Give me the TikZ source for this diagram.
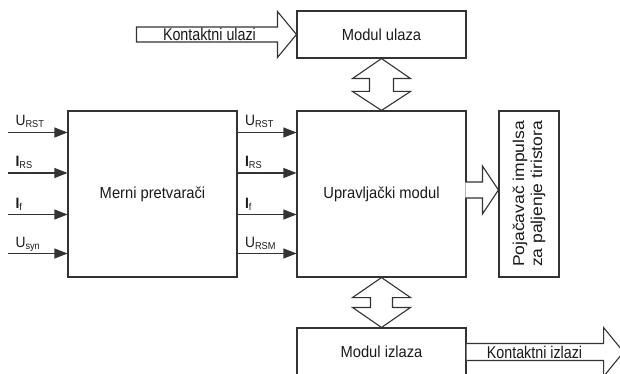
\documentclass[tikz,border=0pt]{standalone}
\usepackage{fontspec}
\usepackage{graphicx}
\setmainfont{Liberation Sans}
\usetikzlibrary{arrows.meta,calc}
\definecolor{ln}{HTML}{333333}
\definecolor{tx}{HTML}{1A1A1A}
\newcommand\sig[2]{\scalebox{0.92}[1]{#1\raisebox{-2pt}{\fontsize{10}{10}\selectfont #2}}}
\newcommand\cz[1]{\scalebox{0.92}[1]{#1}}
\newcommand\czz[1]{\scalebox{0.84}[1]{#1}}
\newcommand\vz[1]{\scalebox{1}[0.9]{#1}}
\begin{document}
\begin{tikzpicture}[x=1pt,y=-1pt,line width=1.1pt,
  block/.style={draw=ln,rectangle,inner sep=0pt,text=tx,font=\fontsize{16}{18}\selectfont},
  sigline/.style={draw=ln,-{Triangle[length=13pt,width=10pt]}},
  lbl/.style={anchor=base west,inner sep=0pt,text=tx,font=\fontsize{15}{17}\selectfont},
  hollow/.style={draw=ln,fill=white,line join=miter},
  atext/.style={anchor=base,inner sep=0pt,text=tx,font=\fontsize{17}{19}\selectfont}]
\useasboundingbox (0,0) rectangle (620,374);
% blocks
\node[block,minimum width=169pt,minimum height=166pt] (merni) at (152.5,194) {\cz{Merni pretvarači}};
\node[block,minimum width=169pt,minimum height=166pt] (uprav) at (381.5,194) {\cz{Upravljački modul}};
\node[block,minimum width=60pt,minimum height=166pt] (poj) at (529,194) {};
\node[rotate=90,align=center,inner sep=0pt,text=tx,font=\fontsize{17.5}{18}\selectfont] (pojtxt) at (poj.center) {\vz{Pojačavač impulsa}\\\vz{za paljenje tiristora}};
\node[block,minimum width=169pt,minimum height=47pt] (ulaz) at (381.5,34.5) {\cz{Modul ulaza}};
\node[block,minimum width=169pt,minimum height=48pt] (izlaz) at (381.5,352) {\cz{Modul izlaza}};
% input signal lines
\coordinate (r1) at (8,132.5);
\coordinate (r2) at (8,173);
\coordinate (r3) at (8,214.5);
\coordinate (r4) at (8,253.5);
\foreach \r in {r1,r2,r3,r4}{
  \draw[sigline] (\r) -- (\r -| merni.west);
  \coordinate (m-\r) at (\r -| merni.east);
  \draw[sigline] (m-\r) -- (\r -| uprav.west);
}
\node[lbl] (l1) at ($(r1)+(7,-6.5)$) {\sig{U}{RST}};
\node[lbl] (l2) at ($(r2)+(7,-6.5)$) {\sig{\textbf{I}}{RS}};
\node[lbl] (l3) at ($(r3)+(7,-6.5)$) {\sig{\textbf{I}}{f}};
\node[lbl] (l4) at ($(r4)+(7,-6.5)$) {\sig{U}{syn}};
\node[lbl] (k1) at ($(m-r1)+(7,-6.5)$) {\sig{U}{RST}};
\node[lbl] (k2) at ($(m-r2)+(7,-6.5)$) {\sig{\textbf{I}}{RS}};
\node[lbl] (k3) at ($(m-r3)+(7,-6.5)$) {\sig{\textbf{I}}{f}};
\node[lbl] (k4) at ($(m-r4)+(7,-6.5)$) {\sig{U}{RSM}};
% Kontaktni ulazi arrow
\draw[hollow] ($(ulaz.west)+(-160,-7.5)$) -- ($(ulaz.west)+(-19,-7.5)$) -- ($(ulaz.west)+(-19,-23)$)
  -- (ulaz.west) -- ($(ulaz.west)+(-19,23)$) -- ($(ulaz.west)+(-19,7.5)$) -- ($(ulaz.west)+(-160,7.5)$) -- cycle;
\node[atext] (kul) at ($(ulaz.west)+(-87,6.5)$) {\czz{Kontaktni ulazi}};
% double arrow ulaz <-> uprav
\draw[hollow] (ulaz.south) -- ($(ulaz.south)+(29,20)$) -- ($(ulaz.south)+(12,20)$) -- ($(uprav.north)+(12,-19)$)
  -- ($(uprav.north)+(29,-19)$) -- (uprav.north) -- ($(uprav.north)+(-29,-19)$) -- ($(uprav.north)+(-12,-19)$)
  -- ($(ulaz.south)+(-12,20)$) -- ($(ulaz.south)+(-29,20)$) -- cycle;
% double arrow uprav <-> izlaz
\draw[hollow] (uprav.south) -- ($(uprav.south)+(29,20)$) -- ($(uprav.south)+(11,20)$) -- ($(izlaz.north)+(11,-20)$)
  -- ($(izlaz.north)+(29,-20)$) -- (izlaz.north) -- ($(izlaz.north)+(-29,-20)$) -- ($(izlaz.north)+(-11,-20)$)
  -- ($(uprav.south)+(-11,20)$) -- ($(uprav.south)+(-29,20)$) -- cycle;
% arrow uprav -> poj
\coordinate (pt) at ($(poj.west)+(0,-4)$);
\draw[hollow] ($(pt)+(-33,-8)$) -- ($(pt)+(-16,-8)$) -- ($(pt)+(-16,-24)$) -- (pt)
  -- ($(pt)+(-16,24)$) -- ($(pt)+(-16,8)$) -- ($(pt)+(-33,8)$);
% Kontaktni izlazi arrow
\coordinate (iz) at (izlaz.east);
\draw[hollow] ($(iz)+(0,-8.5)$) -- ($(iz)+(137,-8.5)$) -- ($(iz)+(137,-24.5)$) -- ($(iz)+(157,0)$)
  -- ($(iz)+(137,24.5)$) -- ($(iz)+(137,8.5)$) -- ($(iz)+(0,8.5)$);
\node[atext] (kiz) at ($(iz)+(68,6.5)$) {\czz{Kontaktni izlazi}};
\end{tikzpicture}
\end{document}
